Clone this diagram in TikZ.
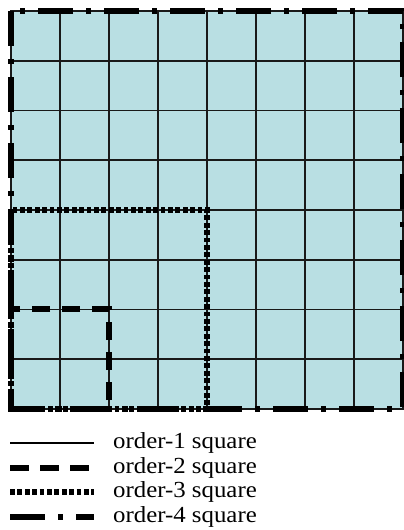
\documentclass[tikz,border=0pt]{standalone}
\usepackage{fontspec}
\setmainfont{Liberation Serif}
\newfontfamily\legfont[FakeStretch=1.08]{Liberation Serif}
\usetikzlibrary{positioning}

\definecolor{cellfill}{RGB}{185,223,227}

\begin{document}
\begin{tikzpicture}[
    x=1pt, y=-1pt,
    font=\legfont\fontsize{23}{27}\selectfont,
    cellgrid/.style={draw=black!90, line width=1.9pt},
    order1/.style={black, line width=1.8pt},
    order2/.style={black, line width=6pt, dash pattern=on 18pt off 12pt},
    order3/.style={black, line width=6pt, dash pattern=on 4.8pt off 2.6pt},
    order4/.style={black, line width=6pt,
                   dash pattern=on 35pt off 13pt on 5pt off 13pt},
    legtxt/.style={anchor=west, inner sep=0pt},
  ]
  \useasboundingbox (0,0) rectangle (404,530);

  % --- corners of the 8x8 board ---
  \coordinate (nw) at (11,11);
  \coordinate (se) at (403,409);

  % --- cells (order-1 squares) ---
  \fill[cellfill] (nw) rectangle (se);
  \foreach \i in {1,...,7} {
    \draw[cellgrid] (11+49*\i,11) -- (11+49*\i,409);
    \draw[cellgrid] (11,11+49.75*\i) -- (403,11+49.75*\i);
  }
  \draw[cellgrid] (nw) rectangle (se);

  % --- order-4 square (whole board) ---
  \draw[order4] (nw) rectangle (se);

  % --- order-3 square (lower left 4x4) ---
  \draw[order3] (11,409) -- (207,409) -- (207,210) -- (11,210) -- cycle;

  % --- order-2 square (lower left 2x2) ---
  \draw[order2, dash phase=21pt] (109,409) -- (109,309) -- (11,309) -- (11,409);

  % --- legend ---
  \node[legtxt] (key1) at (113,443) {order-1 square};
  \node[legtxt] (key2) at (113,468) {order-2 square};
  \node[legtxt] (key3) at (113,492) {order-3 square};
  \node[legtxt] (key4) at (113,517) {order-4 square};

  \coordinate (s1) at (10,443);
  \coordinate (s2) at (10,468);
  \coordinate (s3) at (10,492);
  \coordinate (s4) at (10,517);
  \draw[order1] (s1) -- ++(84,0);
  \draw[order2, dash pattern=on 19pt off 11pt] (s2) -- ++(81,0);
  \draw[order3] (s3) -- ++(84,0);
  \draw[order4] (s4) -- ++(84,0);
\end{tikzpicture}
\end{document}
